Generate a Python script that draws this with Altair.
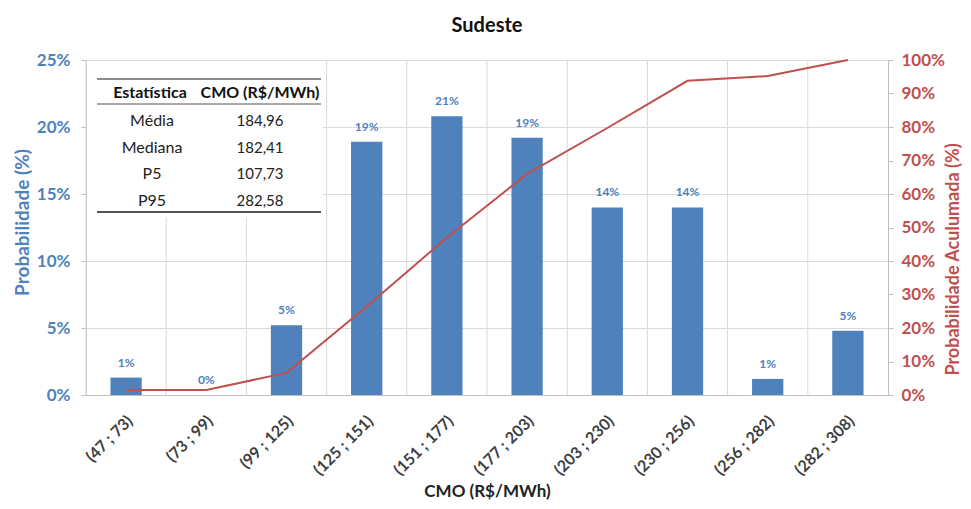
import altair as alt
import pandas as pd

categories = ["(47 ; 73)", "(73 ; 99)", "(99 ; 125)", "(125 ; 151)", "(151 ; 177)",
              "(177 ; 203)", "(203 ; 230)", "(230 ; 256)", "(256 ; 282)", "(282 ; 308)"]
probabilidade = [0.013, 0.0, 0.052, 0.189, 0.208, 0.192, 0.14, 0.14, 0.012, 0.048]
acumulada = [0.015, 0.015, 0.066, 0.264, 0.47, 0.66, 0.797, 0.938, 0.952, 1.0]
stat_names = ["Média", "Mediana", "P5", "P95"]
stat_values = ["184,96", "182,41", "107,73", "282,58"]
table_header = ["Estatística", "CMO (R$/MWh)"]

FONT = "Lato"
BLUE = "#4F81BD"
RED = "#C0504D"
GRID = "#D9D9D9"
AXIS = "#BFBFBF"

W, H = 802, 335

df = pd.DataFrame({"cat": categories, "prob": probabilidade, "acum": acumulada})
stats = pd.DataFrame({"i": list(range(len(stat_names))), "name": stat_names, "val": stat_values})
header = pd.DataFrame({"name": [table_header[0]], "val": [table_header[1]]})
one = pd.DataFrame({"k": [0]})

xenc = alt.X("cat:N", sort=categories, scale=alt.Scale(paddingInner=0, paddingOuter=0),
             axis=alt.Axis(labelAngle=-45, labelAlign="right", labelBaseline="middle",
                           labelFontSize=16, labelFontWeight="bold", labelColor="#404040",
                           labelPadding=23, labelOffset=4,
                           domainColor=AXIS, ticks=False, grid=False,
                           title="CMO (R$/MWh)", titleFontSize=17, titleFontWeight="bold",
                           titleColor="#222222", titleBaseline="bottom", titleY=105))

vgrid = alt.Chart(df).mark_rule(color=GRID, strokeWidth=1).encode(
    x=alt.X("cat:N", sort=categories, bandPosition=0),
    y=alt.value(0), y2=alt.value(H))

yleft = alt.Y("prob:Q", scale=alt.Scale(domain=[0, 0.25]),
              axis=alt.Axis(values=[0, 0.05, 0.1, 0.15, 0.2, 0.25], format=".0%",
                            grid=True, gridColor=GRID, labelColor=BLUE, labelFontSize=17,
                            labelFontWeight="bold", labelPadding=11,
                            domainColor=AXIS, tickColor=AXIS, tickSize=5,
                            title="Probabilidade (%)", titleColor=BLUE, titleFontSize=19,
                            titleFontWeight="bold", titleX=-54, titleY=162,
                            titleBaseline="bottom"))

bars = alt.Chart(df).mark_bar(color=BLUE, width={"band": 0.39}).encode(x=xenc, y=yleft)

labels = alt.Chart(df).mark_text(baseline="bottom", dy=-8, fontSize=12, fontWeight="bold",
                                 color=BLUE, font=FONT).encode(
    x=alt.X("cat:N", sort=categories),
    y=alt.Y("prob:Q", scale=alt.Scale(domain=[0, 0.25]), axis=None),
    text=alt.Text("prob:Q", format=".0%"))

line = alt.Chart(df).mark_line(color=RED, strokeWidth=2).encode(
    x=alt.X("cat:N", sort=categories),
    y=alt.Y("acum:Q", scale=alt.Scale(domain=[0, 1]),
            axis=alt.Axis(orient="right", values=[i / 10 for i in range(11)], format=".0%",
                          grid=False, labelColor=RED, labelFontSize=17, labelFontWeight="bold",
                          labelPadding=8, domainColor=AXIS, tickColor=AXIS, tickSize=5,
                          title="Probabilidade Aculumada (%)", titleColor=RED,
                          titleFontSize=18, titleFontWeight="bold", titleAngle=270,
                          titleX=74, titleY=199, titleBaseline="bottom")))

# statistics table (inset)
tbg = alt.Chart(one).mark_rect(color="white").encode(
    x=alt.value(1), x2=alt.value(237), y=alt.value(1), y2=alt.value(158))
tline_top = alt.Chart(one).mark_rule(color="#8C8C8C", strokeWidth=2).encode(
    x=alt.value(11), x2=alt.value(235), y=alt.value(19))
tline_mid = alt.Chart(one).mark_rule(color="#8C8C8C", strokeWidth=1.5).encode(
    x=alt.value(11), x2=alt.value(235), y=alt.value(44))
tline_bot = alt.Chart(one).mark_rule(color="#1a1a1a", strokeWidth=1.5).encode(
    x=alt.value(11), x2=alt.value(235), y=alt.value(152))
th1 = alt.Chart(header).mark_text(fontSize=16, fontWeight="bold", font=FONT, color="#111111").encode(
    x=alt.value(64), y=alt.value(33), text="name:N")
th2 = alt.Chart(header).mark_text(fontSize=16, fontWeight="bold", font=FONT, color="#111111").encode(
    x=alt.value(174), y=alt.value(33), text="val:N")
tc1 = alt.Chart(stats).transform_calculate(py="61 + 26.7 * datum.i").mark_text(
    fontSize=16, font=FONT, color="#222222").encode(
    x=alt.value(66), y=alt.Y("py:Q", scale=None, axis=None), text="name:N")
tc2 = alt.Chart(stats).transform_calculate(py="61 + 26.7 * datum.i").mark_text(
    fontSize=15, font=FONT, color="#222222").encode(
    x=alt.value(174), y=alt.Y("py:Q", scale=None, axis=None), text="val:N")

chart = alt.layer(vgrid, bars, labels, line, tbg, tline_top, tline_mid, tline_bot,
                  th1, th2, tc1, tc2).resolve_scale(y="independent").properties(
    width=W, height=H,
    title=alt.TitleParams("Sudeste", fontSize=20, fontWeight="bold", font=FONT,
                          anchor="middle", offset=15, color="#111111"),
    autosize=alt.AutoSizeParams(type="none"),
    padding={"left": 78, "top": 52, "right": 75, "bottom": 106},
).configure_view(stroke=None).configure_axis(labelFont=FONT, titleFont=FONT).configure_text(font=FONT)

chart.save("out.html", embed_options={"renderer": "svg", "actions": False})
